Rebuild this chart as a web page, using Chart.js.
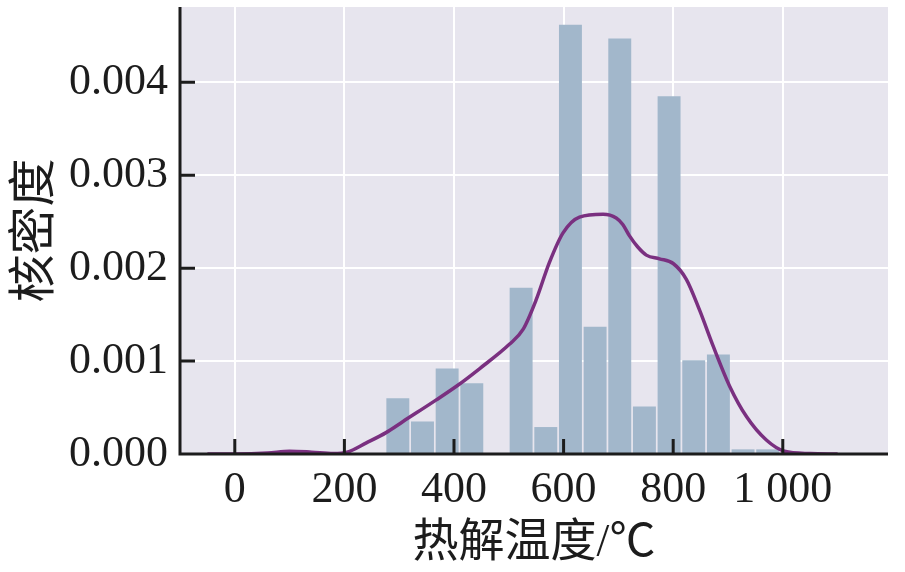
<!DOCTYPE html>
<html>
<head>
<meta charset="utf-8">
<script src="https://cdn.jsdelivr.net/npm/chart.js@4.4.0/dist/chart.umd.min.js"></script>
<style>
html, body { margin: 0; padding: 0; background: #fff; }
#wrap { width: 905px; height: 572px; }
</style>
</head>
<body>
<div id="wrap"><canvas id="kdeChart" width="905" height="572"></canvas></div>
<script>
// histogram: bin centres (bins 45 wide, 275..995) and density heights
const binCenters = [297.5, 342.5, 387.5, 432.5, 477.5, 522.5, 567.5, 612.5, 657.5, 702.5, 747.5, 792.5, 837.5, 882.5, 927.5, 972.5];
const binDensity = [0.00060, 0.00035, 0.00092, 0.00076, 0, 0.00179, 0.00029, 0.00462, 0.00137, 0.00447, 0.00051, 0.00385, 0.00101, 0.00107, 0.00005, 0.00005];

// kernel density curve
const kdeX = [-50, 0, 60, 100, 140, 180, 205, 240, 276, 307, 367, 407, 447, 501, 526, 550, 574, 599, 629, 672, 696, 708, 720, 735, 751, 775, 800, 824, 848, 873, 903, 934, 970, 1003, 1050, 1100];
const kdeY = [0, 0, 0.00001, 0.00003, 0.00002, 0.000005, 0.00002, 0.00012, 0.00023, 0.00035, 0.00058, 0.00074, 0.00092, 0.00118, 0.00134, 0.00166, 0.00206, 0.00238, 0.00255, 0.00258, 0.00254, 0.00247, 0.00235, 0.00223, 0.00214, 0.0021, 0.00205, 0.00188, 0.00155, 0.00116, 0.00073, 0.0004, 0.00015, 0.00003, 0.000005, 0];

const xTicks = [0, 200, 400, 600, 800, 1000];
const yTicks = [0, 0.001, 0.002, 0.003, 0.004];

const serif = '"Liberation Serif", "Noto Sans CJK SC", serif';
const inkColor = '#1c1c1c';

// plot background + white canvas
const bgPlugin = {
    id: 'bg',
    beforeDraw(chart) {
        const { ctx, chartArea: a } = chart;
        ctx.save();
        ctx.fillStyle = '#ffffff';
        ctx.fillRect(0, 0, chart.width, chart.height);
        ctx.fillStyle = '#e7e5ee';
        ctx.fillRect(a.left, a.top, a.right - a.left, a.bottom - a.top);
        ctx.restore();
    }
};

// left/bottom spines with inward ticks, drawn over the bars
const spinePlugin = {
    id: 'spines',
    afterDatasetsDraw(chart) {
        const { ctx, chartArea: a, scales } = chart;
        ctx.save();
        ctx.strokeStyle = inkColor;
        ctx.lineWidth = 3;
        ctx.beginPath();
        ctx.moveTo(a.left, a.top);
        ctx.lineTo(a.left, a.bottom);
        ctx.lineTo(a.right, a.bottom);
        ctx.stroke();
        ctx.beginPath();
        xTicks.forEach(v => {
            const px = scales.x.getPixelForValue(v);
            ctx.moveTo(px, a.bottom);
            ctx.lineTo(px, a.bottom - 15);
        });
        yTicks.forEach(v => {
            if (v === 0) return;
            const py = scales.y.getPixelForValue(v);
            ctx.moveTo(a.left, py);
            ctx.lineTo(a.left + 15, py);
        });
        ctx.stroke();
        ctx.restore();
    }
};

const ctx = document.getElementById('kdeChart').getContext('2d');

new Chart(ctx, {
    type: 'bar',
    data: {
        datasets: [
            {
                type: 'line',
                data: kdeX.map((x, i) => ({ x: x, y: kdeY[i] })),
                borderColor: '#7a3080',
                borderWidth: 3.5,
                pointRadius: 0,
                cubicInterpolationMode: 'monotone',
                fill: false,
                order: 0
            },
            {
                type: 'bar',
                data: binCenters.map((x, i) => ({ x: x, y: binDensity[i] })),
                backgroundColor: '#a2b7cb',
                borderWidth: 0,
                barPercentage: 0.93,
                categoryPercentage: 1,
                order: 1
            }
        ]
    },
    options: {
        responsive: false,
        animation: false,
        devicePixelRatio: 1,
        layout: { padding: { left: 0, right: 17, top: 7, bottom: 0 } },
        plugins: {
            legend: { display: false },
            tooltip: { enabled: false }
        },
        scales: {
            x: {
                type: 'linear',
                offset: false,
                min: -100,
                max: 1192,
                afterBuildTicks: s => { s.ticks = xTicks.map(v => ({ value: v })); },
                afterFit: s => { s.height = 118; s.paddingLeft = 0; s.paddingRight = 0; },
                grid: { color: '#ffffff', lineWidth: 2, drawTicks: false, offset: false },
                border: { display: false },
                ticks: {
                    font: { family: serif, size: 44 },
                    color: inkColor,
                    padding: 10,
                    maxRotation: 0,
                    callback: v => String(v).replace(/\B(?=(\d{3})+(?!\d))/g, ' ')
                },
                title: {
                    display: true,
                    text: '热解温度/℃',
                    font: { family: serif, size: 46 },
                    color: inkColor,
                    padding: { top: 0, bottom: 0 }
                }
            },
            y: {
                min: 0,
                max: 0.00481,
                afterBuildTicks: s => { s.ticks = yTicks.map(v => ({ value: v })); },
                afterFit: s => { s.width = 180; s.paddingTop = 0; s.paddingBottom = 0; },
                grid: { color: '#ffffff', lineWidth: 2, drawTicks: false },
                border: { display: false },
                ticks: {
                    font: { family: serif, size: 44 },
                    color: inkColor,
                    padding: 12,
                    callback: v => v.toFixed(3)
                },
                title: {
                    display: true,
                    text: '核密度',
                    font: { family: serif, size: 48 },
                    color: inkColor,
                    padding: { top: 8, bottom: 0 }
                }
            }
        }
    },
    plugins: [bgPlugin, spinePlugin]
});
</script>
</body>
</html>
